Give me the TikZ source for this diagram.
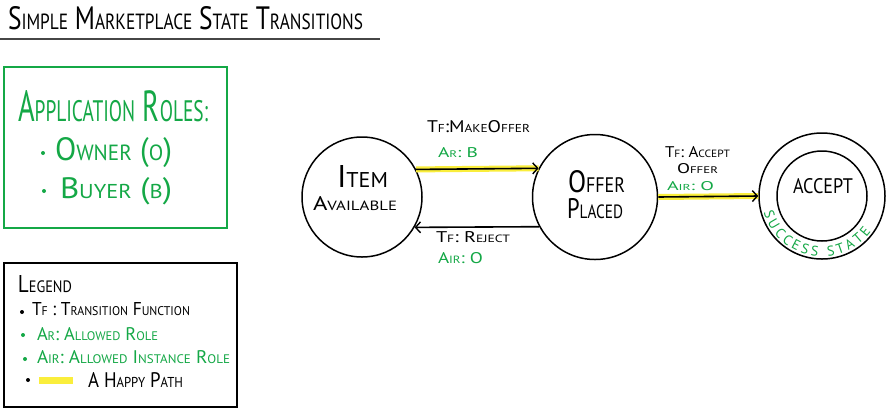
\documentclass[tikz,border=0pt]{standalone}
\usepackage{fontspec}
\setmainfont{PT Sans}
\usepackage{graphicx}
\usetikzlibrary{arrows.meta,decorations.text}
\definecolor{rgreen}{RGB}{20,168,70}
\definecolor{hyellow}{RGB}{250,238,60}
\definecolor{ulgray}{RGB}{70,70,70}
\makeatletter
\newcommand\lc[1]{{\dimen@=\f@size pt\dimen@=0.68\dimen@\edef\lc@sz{\strip@pt\dimen@}\fontsize{\lc@sz}{\lc@sz}\selectfont #1}}
\makeatother
\newcommand\fitw[3]{\resizebox{#1pt}{#2pt}{#3}}
\tikzset{
  txt/.style={inner sep=0pt, outer sep=0pt, anchor=base west},
  gtxt/.style={txt, text=rgreen},
  statenode/.style={circle, draw, line width=1.5pt, inner sep=0pt},
  hl/.style={hyellow, line width=6pt},
  arr/.style={line width=1.6pt, -{Straight Barb[length=5pt,width=11pt,line width=1.4pt]}},
  bul/.style={circle, fill, inner sep=0pt, minimum size=4pt},
}
\begin{document}
\begin{tikzpicture}[x=1pt,y=1pt]
\fill[white] (0,0) rectangle (886,-408);
\useasboundingbox (0,0) rectangle (886,-408);

% title
\node[txt] (title) at (8,-29) {\fitw{355}{23}{S\lc{IMPLE} M\lc{ARKETPLACE} S\lc{TATE} T\lc{RANSITIONS}}};
\coordinate (ul1) at (0,-39);
\coordinate (ul2) at (380,-39);
\draw[ulgray, line width=2pt] (ul1) -- (ul2);

% application roles
\draw[rgreen, line width=2pt] (4,-67) rectangle (227,-228);
\node[gtxt] (roles) at (18,-121) {\fitw{190}{31}{A\lc{PPLICATION} R\lc{OLES:}}};
\node[bul, rgreen] (b1) at (43,-153) {};
\node[gtxt] (owner) at (55,-160) {\fitw{117}{23}{O\lc{WNER} (\lc{O})}};
\node[bul, rgreen] (b2) at (44,-191) {};
\node[gtxt] (buyer) at (60,-198) {\fitw{112}{21}{B\lc{UYER} (\lc{B})}};

% legend
\draw[black, line width=1.5pt] (4,-263) rectangle (237,-407);
\node[txt] (legend) at (18,-292) {\fitw{54}{17}{L\lc{EGEND}}};
\node[bul, black] (lb1) at (22,-312) {};
\node[txt] (ltf) at (32,-315) {\fitw{158}{13}{T\lc{F} : T\lc{RANSITION} F\lc{UNCTION}}};
\node[bul, rgreen] (lb2) at (23,-335) {};
\node[gtxt] (lar) at (37,-340) {\fitw{121}{13}{A\lc{R}: A\lc{LLOWED} R\lc{OLE}}};
\node[bul, rgreen] (lb3) at (25,-359) {};
\node[gtxt] (lair) at (37,-363) {\fitw{193}{13}{A\lc{IR}: A\lc{LLOWED} I\lc{NSTANCE} R\lc{OLE}}};
\node[bul, black] (lb4) at (28,-380) {};
\fill[hyellow] (39,-377) rectangle (73,-384);
\node[txt] (lhappy) at (88,-387) {\fitw{95}{15}{A H\lc{APPY} P\lc{ATH}}};

% states
\node[statenode, minimum size=120pt] (item) at (362,-197) {};
\node[statenode, minimum size=125pt] (offer) at (595,-197) {};
\node[statenode, minimum size=126pt] (acceptout) at (822,-196) {};
\node[statenode, minimum size=90pt] (acceptin) at (822,-196) {};

\node[txt] (itemt1) at (337,-187) {\fitw{51}{22}{I\lc{TEM}}};
\node[txt] (itemt2) at (313,-210) {\fitw{84}{14}{A\lc{VAILABLE}}};
\node[txt] (offert1) at (568,-192) {\fitw{57}{22}{O\lc{FFER}}};
\node[txt] (offert2) at (567,-218) {\fitw{56}{20}{P\lc{LACED}}};
\node[txt] (acceptt) at (793,-193) {\fitw{60}{15}{ACCEPT}};

\path[decorate, decoration={text along path,
   text={|\fontsize{14}{14}\selectfont\color{rgreen}|SUCCESS STATE},
   text align={fit to path}}]
  ([shift={(196:60.5)}]acceptout.center) arc[start angle=196, end angle=324, radius=60.5];

% transitions
\draw[hl] (item.27.8) -- (offer.153.4);
\draw[arr] (item.27.8) -- (offer.153.4);
\draw[arr] (offer.208.7) -- (item.-30);
\draw[hl] (offer.east) -- (acceptout.west);
\draw[arr] (offer.east) -- (acceptout.west);

% labels
\node[txt] (l1) at (427,-132) {\fitw{103}{12}{T\lc{F}:M\lc{AKE}O\lc{FFER}}};
\node[gtxt] (l2) at (438,-157) {\fitw{40}{10}{A\lc{R}: B}};
\node[txt] (l3) at (436,-242) {\fitw{74}{11}{T\lc{F}: R\lc{EJECT}}};
\node[gtxt] (l4) at (438,-263) {\fitw{45}{11}{A\lc{IR}: O}};
\node[txt] (l5) at (665,-157) {\fitw{65}{11}{T\lc{F}: A\lc{CCEPT}}};
\node[txt] (l6) at (677,-173) {\fitw{41}{10}{O\lc{FFER}}};
\node[gtxt] (l7) at (667,-190) {\fitw{47}{9}{A\lc{IR}: O}};
\end{tikzpicture}
\end{document}
